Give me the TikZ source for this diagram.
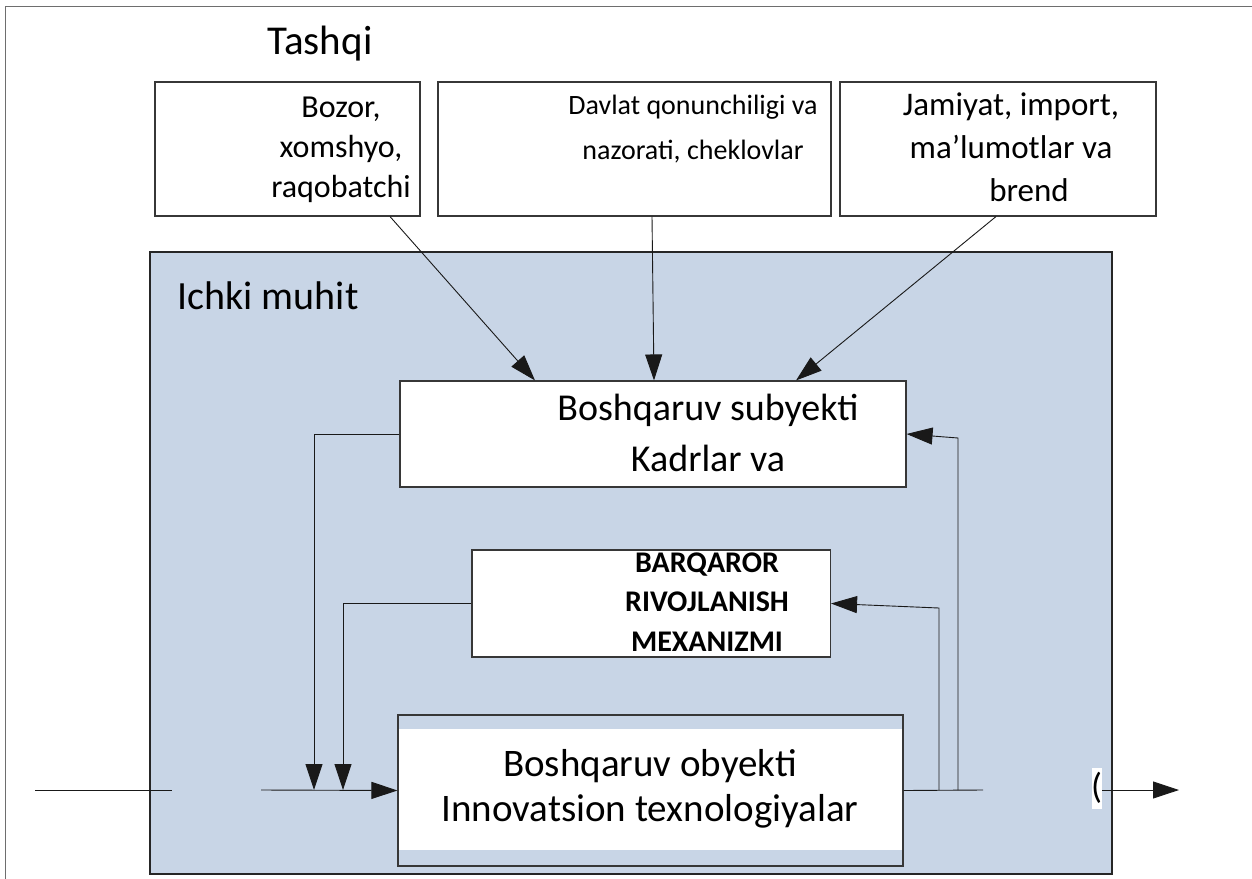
\documentclass[tikz,border=0pt]{standalone}
\usepackage{fontspec}
\setmainfont{Carlito}
\usetikzlibrary{arrows.meta}
\definecolor{innerfill}{RGB}{200,213,230}
\definecolor{edgec}{RGB}{55,55,55}
\definecolor{framec}{RGB}{110,110,110}
\newcommand\setfs[2]{\fontsize{#1}{#2}\selectfont}
\tikzset{
  boxn/.style={draw=edgec, line width=1.1pt, inner sep=0pt},
  txt/.style={inner sep=0pt, align=center, text=black},
  conn/.style={draw=black!90, line width=0.9pt},
  arr/.style={conn, -{Triangle[length=26pt,width=17pt]}},
}
\begin{document}
\begin{tikzpicture}[x=1pt,y=-1pt]
\useasboundingbox (0,0) rectangle (1252,878);
% outer frame (only top and left visible)
\draw[framec, line width=1.5pt] (5.5,880) -- (5.5,6.5) -- (1254,6.5);
\node[txt, font=\setfs{41}{48}] (tashqi) at (320,44) {Tashqi};
% external boxes
\node[boxn, fill=white, minimum width=265pt, minimum height=134pt] (b1) at (287.5,149) {};
\node[boxn, fill=white, minimum width=393pt, minimum height=134pt] (b2) at (634.5,149) {};
\node[boxn, fill=white, minimum width=316pt, minimum height=134pt] (b3) at (998,149) {};
\node[txt, font=\setfs{32}{40}] (t1) at (341,150) {Bozor,\\xomshyo,\\raqobatchi};
\node[txt, font=\setfs{28}{45}] (t2) at (693,129) {Davlat qonunchiligi va\\nazorati, cheklovlar};
\node[txt, font=\setfs{33}{43}] (t3) at (1011,147) {Jamiyat, import,\\ma’lumotlar va\\\hspace*{36pt}brend};
% inner environment
\node[boxn, draw=black!85, fill=innerfill, minimum width=962pt, minimum height=622pt] (inner) at (631,563) {};
\node[txt, font=\setfs{40}{48}] (ichki) at (268,296) {Ichki muhit};
% subject box
\node[boxn, fill=white, minimum width=506pt, minimum height=106pt] (sub) at (653,434) {};
\node[txt, font=\setfs{38}{51}] (subt) at (708,433) {Boshqaruv subyekti\\Kadrlar va};
% mechanism box
\node[boxn, fill=white, minimum width=358.5pt, minimum height=107pt] (bar) at (651.25,603.5) {};
\node[txt, font=\bfseries\setfs{30}{39.5}] (bart) at (707,602) {BARQAROR\\RIVOJLANISH\\MEXANIZMI};
% object box
\fill[white] (398.5,729) rectangle (902.5,850);
\node[boxn, minimum width=505pt, minimum height=151pt] (obj) at (650.5,790.5) {};
\node[txt, font=\setfs{39}{45}] (objt) at (650,789) {Boshqaruv obyekti\\Innovatsion texnologiyalar};
% external influences
\draw[arr] ([xshift=102.5pt]b1.south) -- ([xshift=-118pt]sub.north);
\draw[arr] ([xshift=17.5pt]b2.south) -- ([xshift=1pt]sub.north);
\draw[arr] ([xshift=-2pt]b3.south) -- ([xshift=143pt]sub.north);
% feedback down to the input line
\coordinate (d1) at (314,790);
\coordinate (d2) at (343,790);
\draw[arr] (sub.west) -| (d1);
\draw[arr] (bar.west) -| (d2);
% input line
\coordinate (inA) at (35,790);
\coordinate (inB) at (172,790);
\coordinate (inC) at (261,790);
\draw[conn] (inA) -- (inB);
\draw[arr] (inC) -- (obj.west);
% output line and feedback up
\coordinate (outA) at (983,790);
\draw[conn] (obj.east) -- (outA);
\coordinate (u1b) at (939,790);
\coordinate (u1t) at (939,608);
\coordinate (u2b) at (958,790);
\coordinate (u2t) at (958,438);
\draw[arr] (u1b) -- (u1t) -- (bar.east);
\draw[arr] (u2b) -- (u2t) -- (sub.east);
% output arrow with clipped label
\fill[white] (1092,768) rectangle (1102,809);
\begin{scope}
\clip (1092,768) rectangle (1102,809);
\node[txt, anchor=west, font=\setfs{36}{40}] (paren) at (1091,788) {(};
\end{scope}
\coordinate (oA) at (1102,790);
\coordinate (oB) at (1179,790);
\draw[arr] (oA) -- (oB);
\end{tikzpicture}
\end{document}
